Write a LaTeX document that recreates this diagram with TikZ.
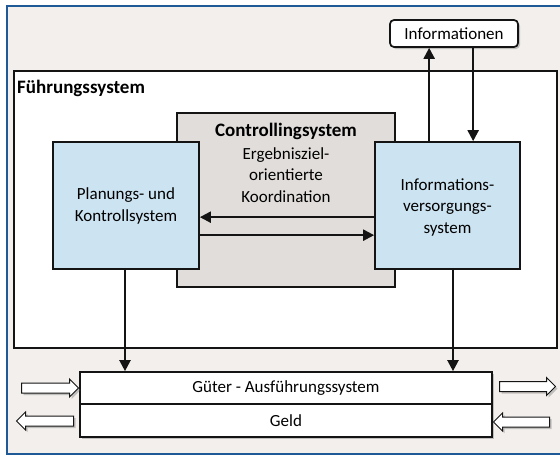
\documentclass[tikz,border=0pt]{standalone}
\usepackage{fontspec}
\setmainfont{Carlito}
\usetikzlibrary{shapes.arrows,shadows,arrows.meta}
\definecolor{frameblue}{HTML}{1F5A96}
\definecolor{bgcol}{HTML}{F2EFEC}
\definecolor{boxblue}{HTML}{CCE3F1}
\definecolor{boxgrey}{HTML}{E1DDDA}
\definecolor{linecol}{HTML}{141414}
\begin{document}
\begin{tikzpicture}[x=1pt,y=-1pt,
  font=\fontsize{17}{21.5}\selectfont,
  boldtxt/.style={font=\fontsize{19}{22}\selectfont\bfseries},
  sysbox/.style={draw=linecol, line width=1.7pt, inner sep=0pt},
  txt/.style={align=center, inner sep=0pt},
  arr/.style={line width=2.2pt, draw=linecol, -{Triangle[width=11pt,length=11pt]}},
  shad/.style={drop shadow={shadow xshift=2pt, shadow yshift=-2pt, opacity=0.35, fill=black!60}},
  blockarr/.style={single arrow, draw=linecol, line width=1pt, fill=white, inner xsep=0pt, inner ysep=4.5pt,
    single arrow head extend=4pt, single arrow tip angle=90, shad}]
\useasboundingbox (0,0) rectangle (560,456);
\clip (0,0) rectangle (560,456);
\fill[white] (0,0) rectangle (560,456);
\draw[frameblue, line width=2.2pt, fill=bgcol] (7,6) rectangle (620,454);

% Fuehrungssystem
\node[sysbox, fill=white, line width=2pt, minimum width=543pt, minimum height=277pt, anchor=north west] (fs) at (13,70) {};
\node[anchor=base west, inner sep=0pt, boldtxt] (fst) at (17,93) {Führungssystem};

% Controllingsystem
\node[sysbox, fill=boxgrey, minimum width=218pt, minimum height=174pt] (ctl) at (286,200) {};
\node[txt, boldtxt] (ctlt) at (286,131) {Controllingsystem};
\node[txt] (ctlb) at (286,175) {Ergebnisziel-\\orientierte\\Koordination};

% Planungs- und Kontrollsystem
\node[sysbox, fill=boxblue, minimum width=146pt, minimum height=127pt] (plan) at (126,205.5) {};
\node[txt] (plant) at (126,206) {Planungs- und\\Kontrollsystem};

% Informationsversorgungssystem
\node[sysbox, fill=boxblue, minimum width=145pt, minimum height=127pt] (info) at (447.5,205.5) {};
\node[txt] (infot) at (447.5,207) {Informations-\\versorgungs-\\system};

% Informationen
\node[sysbox, fill=white, rounded corners=4pt, minimum width=128pt, minimum height=27pt, shad] (infn) at (454,33.5) {Informationen};

% Gueter / Geld
\node[sysbox, fill=white, minimum width=412pt, minimum height=32pt, shad] (gut) at (286,388) {Güter - Ausführungssystem};
\node[sysbox, fill=white, minimum width=412pt, minimum height=33pt, shad] (geld) at (286,420.5) {Geld};
\node[sysbox, minimum width=412pt, minimum height=32pt] (gutb) at (286,388) {};

% connectors
\coordinate (u1) at ([xshift=55pt]info.north west);
\draw[arr] (u1) -- (u1 |- infn.south);
\coordinate (d1) at ([xshift=84pt]infn.south west);
\draw[arr] (d1) -- (d1 |- info.north);
\coordinate (h1) at ([yshift=-76pt]info.north west);
\draw[arr] (h1) -- (h1 -| plan.east);
\coordinate (h2) at ([yshift=-94pt]plan.north east);
\draw[arr] (h2) -- (h2 -| info.west);
\coordinate (v1) at ([xshift=-1pt]plan.south);
\draw[arr] (v1) -- (v1 |- gut.north);
\coordinate (v2) at ([xshift=5.5pt]info.south);
\draw[arr] (v2) -- (v2 |- gut.north);

% block arrows
\node[blockarr, minimum height=57pt] (bl1) at (47.5,388) {};
\node[blockarr, minimum height=56pt] (br1) at (525,386.5) {};
\node[blockarr, minimum height=57pt, shape border rotate=180] (bl2) at (47.5,421) {};
\node[blockarr, minimum height=56pt, shape border rotate=180] (br2) at (524,422) {};
\end{tikzpicture}
\end{document}
